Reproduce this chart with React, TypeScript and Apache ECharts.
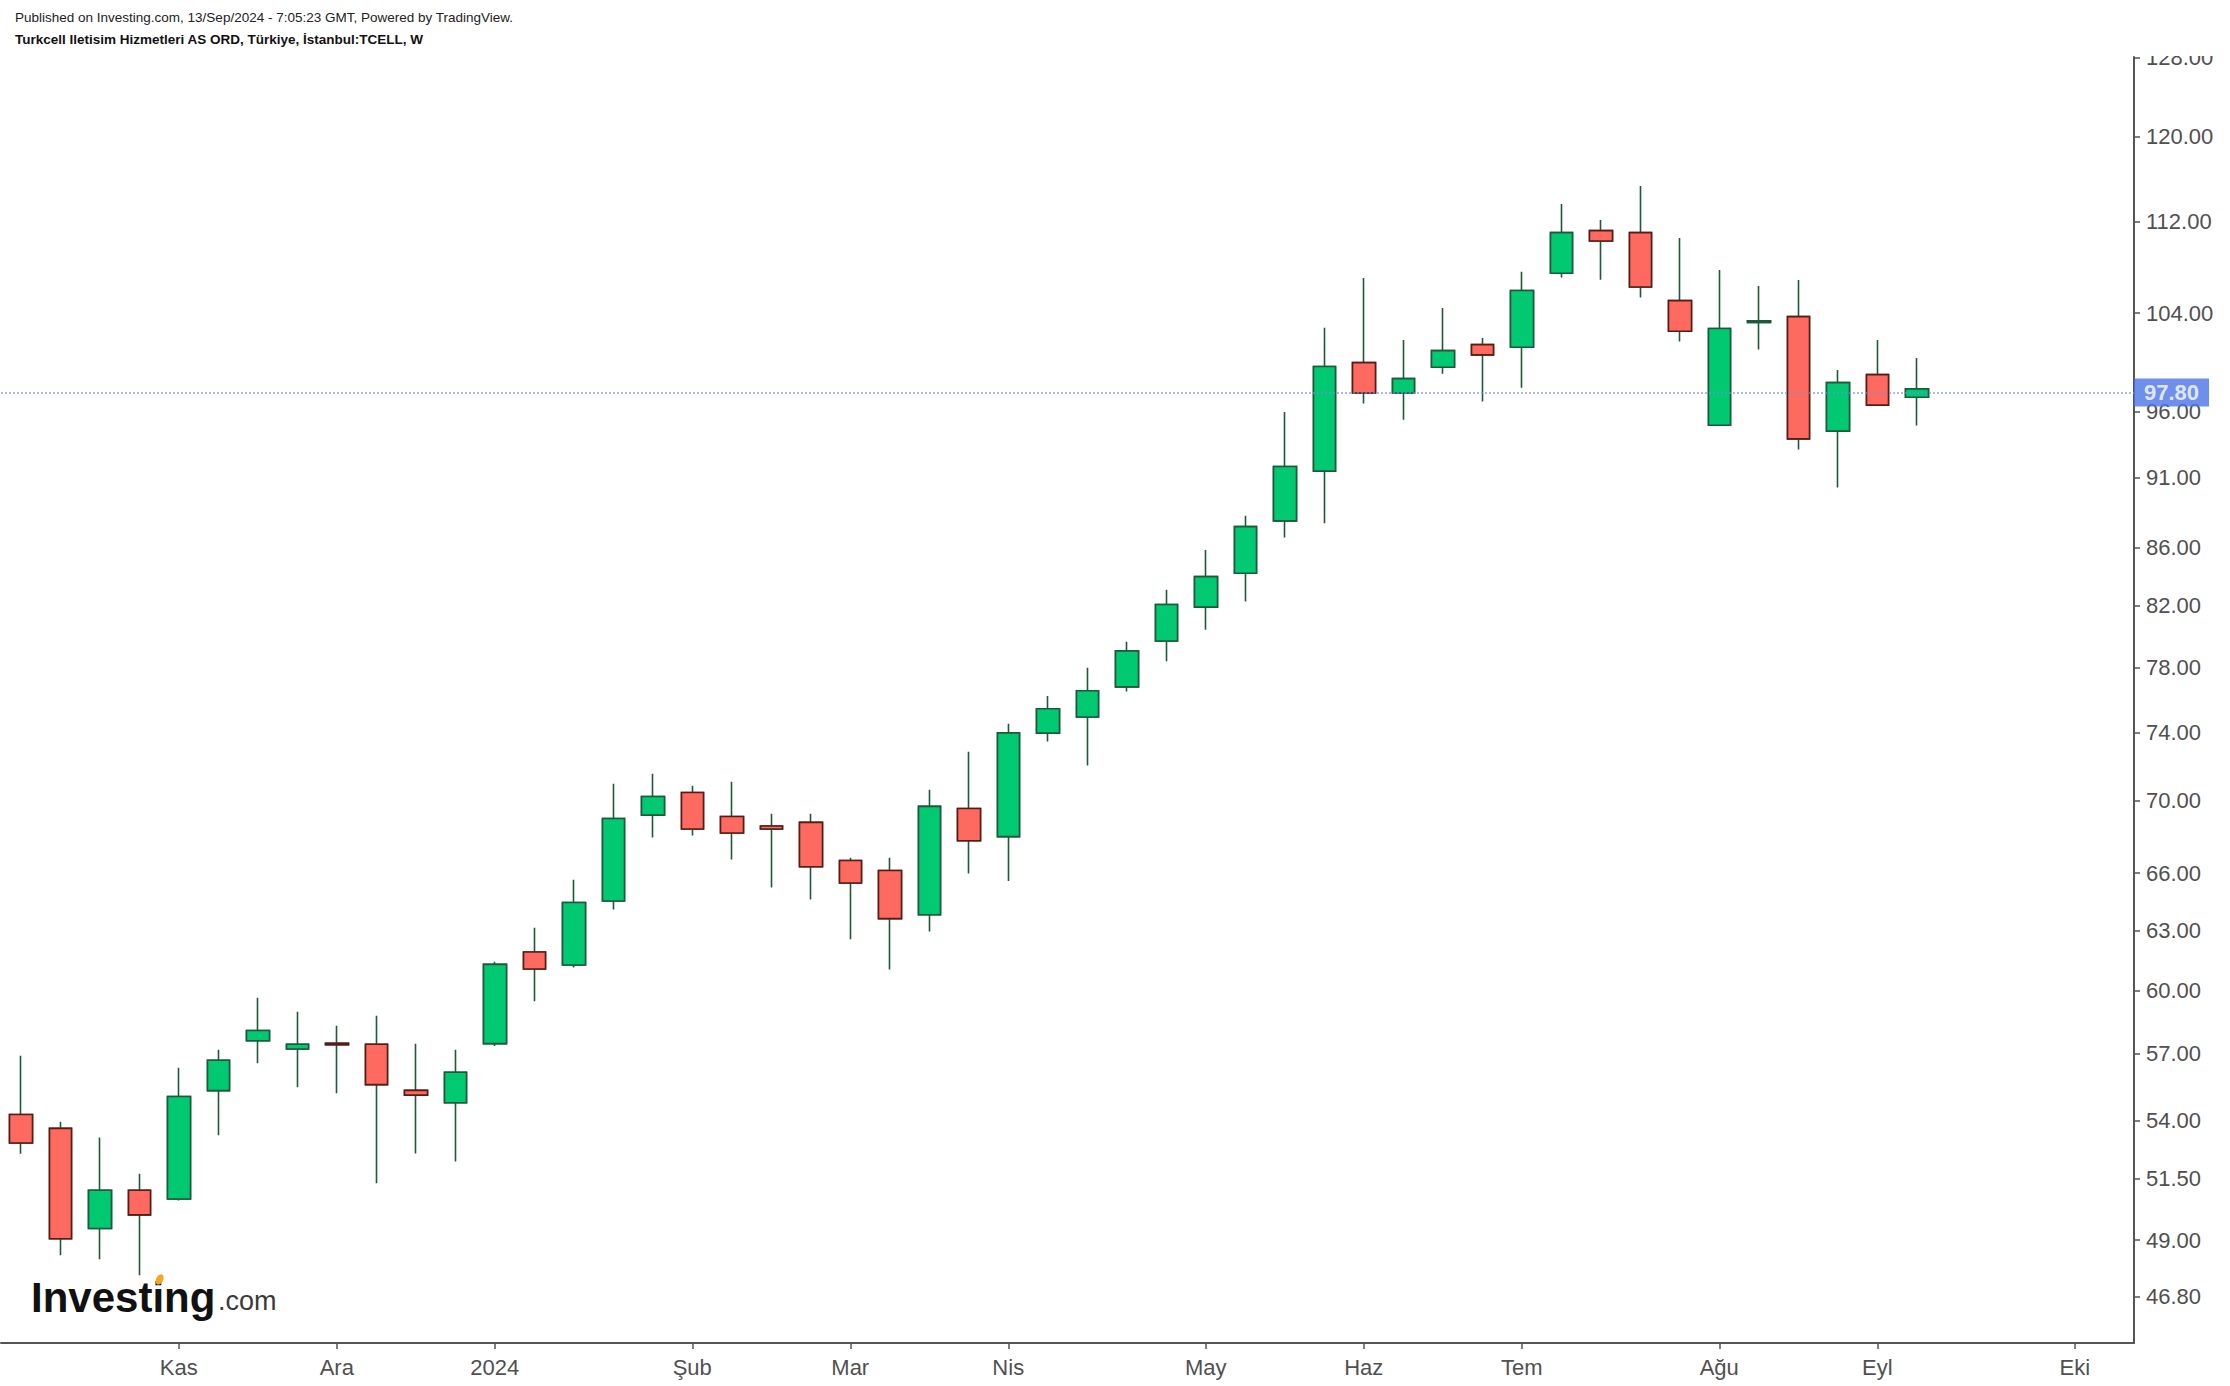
import { useEffect, useRef } from "react";
import * as echarts from "echarts";

// Weekly bars (week start dates), including empty future weeks on the right
const weeks = [
  "2023-10-09", "2023-10-16", "2023-10-23", "2023-10-30", "2023-11-06", "2023-11-13",
  "2023-11-20", "2023-11-27", "2023-12-04", "2023-12-11", "2023-12-18", "2023-12-25",
  "2024-01-01", "2024-01-08", "2024-01-15", "2024-01-22", "2024-01-29", "2024-02-05",
  "2024-02-12", "2024-02-19", "2024-02-26", "2024-03-04", "2024-03-11", "2024-03-18",
  "2024-03-25", "2024-04-01", "2024-04-08", "2024-04-15", "2024-04-22", "2024-04-29",
  "2024-05-06", "2024-05-13", "2024-05-20", "2024-05-27", "2024-06-03", "2024-06-10",
  "2024-06-17", "2024-06-24", "2024-07-01", "2024-07-08", "2024-07-15", "2024-07-22",
  "2024-07-29", "2024-08-05", "2024-08-12", "2024-08-19", "2024-08-26", "2024-09-02",
  "2024-09-09", "2024-09-16", "2024-09-23", "2024-09-30", "2024-10-07", "2024-10-14",
];

const opens = [
  54.26, 53.65, 49.46, 51.02, 50.66, 55.32, 57.61, 57.22, 57.49, 57.44, 55.33, 54.78,
  57.47, 61.91, 61.26, 64.53, 69.19, 70.47, 69.11, 68.58, 68.78, 66.69, 66.15, 63.81,
  69.56, 67.99, 73.95, 74.93, 76.78, 79.7, 81.92, 84.2, 87.86, 91.48, 99.91, 97.48,
  99.54, 101.38, 101.17, 107.43, 111.21, 111.03, 105.07, 94.96, 103.22, 103.71, 94.5,
  98.94, 97.14,
];
const highs = [
  56.91, 53.94, 53.25, 51.71, 56.36, 57.19, 59.65, 58.98, 58.31, 58.79, 57.47, 57.19,
  61.42, 63.14, 65.65, 70.97, 71.55, 70.86, 71.09, 69.27, 69.27, 66.84, 66.84, 70.63,
  72.84, 74.51, 76.21, 77.99, 79.64, 83.08, 85.81, 88.23, 95.99, 102.77, 107.02, 101.77,
  104.45, 101.93, 107.55, 113.65, 112.18, 115.32, 110.55, 107.72, 106.33, 106.85, 99.32,
  101.77, 100.29,
];
const lows = [
  52.56, 48.4, 48.24, 47.62, 50.6, 53.35, 56.56, 55.47, 55.2, 51.31, 52.57, 52.23,
  57.36, 59.48, 61.14, 64.09, 67.94, 68.06, 66.74, 65.24, 64.61, 62.55, 61.04, 62.95,
  65.99, 65.58, 73.45, 72.03, 76.5, 78.39, 80.43, 82.29, 86.68, 87.69, 96.64, 95.39,
  99.02, 96.8, 97.9, 107.05, 106.87, 105.33, 101.63, 94.9, 100.97, 93.1, 90.27,
  96.45, 94.93,
];
const closes = [
  53.02, 49.05, 51.02, 50.01, 55.06, 56.7, 58.09, 57.44, 57.42, 55.59, 55.12, 56.15,
  61.29, 61.06, 64.45, 69.0, 70.24, 68.41, 68.19, 68.41, 66.35, 65.48, 63.61, 69.68,
  67.76, 73.97, 75.43, 76.54, 79.06, 82.09, 83.97, 87.45, 91.83, 99.59, 97.48, 98.62,
  100.89, 100.54, 105.93, 111.03, 110.28, 106.24, 102.49, 102.71, 103.35, 93.91, 98.3,
  96.52, 97.8,
];

const yTickValues = [46.8, 49, 51.5, 54, 57, 60, 63, 66, 70, 74, 78, 82, 86, 91, 96, 104, 112, 120, 128];
const xTickIndex = [4, 8, 12, 17, 21, 25, 30, 34, 38, 43, 47, 52];
const xTickLabels = ["Kas", "Ara", "2024", "Şub", "Mar", "Nis", "May", "Haz", "Tem", "Ağu", "Eyl", "Eki"];
const lastPrice = 97.8;
const yMinPrice = 45.07;
const yMaxPrice = 128.05;

const FONT = '"Liberation Sans", Arial, sans-serif';
const UP = "#00C972";
const DOWN = "#FF6A60";
const UP_BORDER = "#1E5A3A";
const DOWN_BORDER = "#5C1A15";
const AXIS = "#555555";
const LABEL = "#505050";

function buildOption() {
  const ln = Math.log;
  const wickData = opens.map((o, i) => [ln(o), ln(closes[i]), ln(lows[i]), ln(highs[i])]);
  const bodyData = opens.map((o, i) => [
    ln(o),
    ln(closes[i]),
    ln(Math.min(o, closes[i])),
    ln(Math.max(o, closes[i])),
  ]);
  const yTicksLn = yTickValues.map(ln);
  const showX = (i: number) => xTickIndex.indexOf(i) >= 0;

  return {
    animation: false,
    backgroundColor: "#ffffff",
    grid: { left: 1, right: 96, top: 57, bottom: 43, containLabel: false },
    xAxis: {
      type: "category",
      data: weeks,
      boundaryGap: true,
      axisLine: { show: true, lineStyle: { color: AXIS, width: 2 } },
      axisTick: {
        show: true,
        alignWithLabel: true,
        interval: (i: number) => showX(i),
        length: 6,
        lineStyle: { color: AXIS, width: 1.5 },
      },
      axisLabel: {
        interval: (i: number) => showX(i),
        formatter: (_v: string, i: number) => {
          const k = xTickIndex.indexOf(i);
          return k >= 0 ? xTickLabels[k] : "";
        },
        color: LABEL,
        fontSize: 22,
        fontFamily: FONT,
        margin: 13,
      },
      splitLine: { show: false },
    },
    yAxis: {
      type: "value",
      position: "right",
      min: ln(yMinPrice),
      max: ln(yMaxPrice),
      axisLine: { show: true, lineStyle: { color: AXIS, width: 2 } },
      axisTick: {
        show: true,
        customValues: yTicksLn,
        length: 6,
        lineStyle: { color: AXIS, width: 1.5 },
      },
      axisLabel: {
        customValues: yTicksLn,
        formatter: (v: number) => {
          const p = Math.exp(v);
          let best = yTickValues[0];
          for (const t of yTickValues) if (Math.abs(t - p) < Math.abs(best - p)) best = t;
          return best.toFixed(2);
        },
        color: LABEL,
        fontSize: 22,
        fontFamily: FONT,
        margin: 12,
      },
      splitLine: { show: false },
    },
    series: [
      {
        name: "wicks",
        type: "candlestick",
        data: wickData,
        barWidth: 23,
        itemStyle: {
          color: UP,
          color0: DOWN,
          borderColor: UP_BORDER,
          borderColor0: UP_BORDER,
          borderWidth: 1.6,
        },
        silent: true,
      },
      {
        name: "bodies",
        type: "candlestick",
        data: bodyData,
        barWidth: 23,
        itemStyle: {
          color: UP,
          color0: DOWN,
          borderColor: UP_BORDER,
          borderColor0: DOWN_BORDER,
          borderWidth: 1.6,
        },
        silent: true,
        markLine: {
          silent: true,
          symbol: ["none", "none"],
          data: [{ yAxis: ln(lastPrice) }],
          lineStyle: { type: [2, 2], color: "#6f8fee", width: 1.5, opacity: 0.8 },
          label: {
            show: true,
            position: "end",
            distance: 0,
            formatter: lastPrice.toFixed(2),
            color: "#ffffff",
            fontSize: 22,
            fontWeight: "bold",
            fontFamily: FONT,
            backgroundColor: "#4B73E8",
            padding: [3, 10, 3, 10],
          },
        },
      },
    ],
    graphic: {
      elements: [
        {
          type: "rect",
          z: 100,
          shape: { x: 2136, y: 0, width: 94, height: 56 },
          style: { fill: "#ffffff" },
        },
        {
          type: "text",
          z: 100,
          x: 15,
          y: 17,
          style: {
            text: "Published on Investing.com, 13/Sep/2024 - 7:05:23 GMT, Powered by TradingView.",
            font: `13.5px ${FONT}`,
            fill: "#222222",
            textVerticalAlign: "middle",
          },
        },
        {
          type: "text",
          z: 100,
          x: 15,
          y: 39,
          style: {
            text: "Turkcell Iletisim Hizmetleri AS ORD, Türkiye, İstanbul:TCELL, W",
            font: `bold 13.5px ${FONT}`,
            fill: "#111111",
            textVerticalAlign: "middle",
          },
        },
        {
          type: "text",
          z: 100,
          x: 31,
          y: 1318,
          style: {
            text: "Investing",
            font: `bold 42px ${FONT}`,
            fill: "#111111",
            textVerticalAlign: "bottom",
          },
        },
        {
          type: "text",
          z: 100,
          x: 218,
          y: 1314,
          style: {
            text: ".com",
            font: `27px ${FONT}`,
            fill: "#3a3a3a",
            textVerticalAlign: "bottom",
          },
        },
        {
          type: "ellipse",
          z: 101,
          shape: { cx: 159, cy: 1279, rx: 3.5, ry: 5.5 },
          rotation: -0.5,
          originX: 159,
          originY: 1279,
          style: { fill: "#F5A623" },
        },
      ],
    },
  };
}

export default function App() {
  const ref = useRef<HTMLDivElement>(null);
  useEffect(() => {
    if (!ref.current) return;
    const chart = echarts.init(ref.current, null, { renderer: "svg" });
    chart.setOption(buildOption() as any);
    return () => chart.dispose();
  }, []);
  return (
    <div
      ref={ref}
      style={{ position: "absolute", left: 0, top: 0, width: 2230, height: 1386, background: "#ffffff" }}
    />
  );
}
